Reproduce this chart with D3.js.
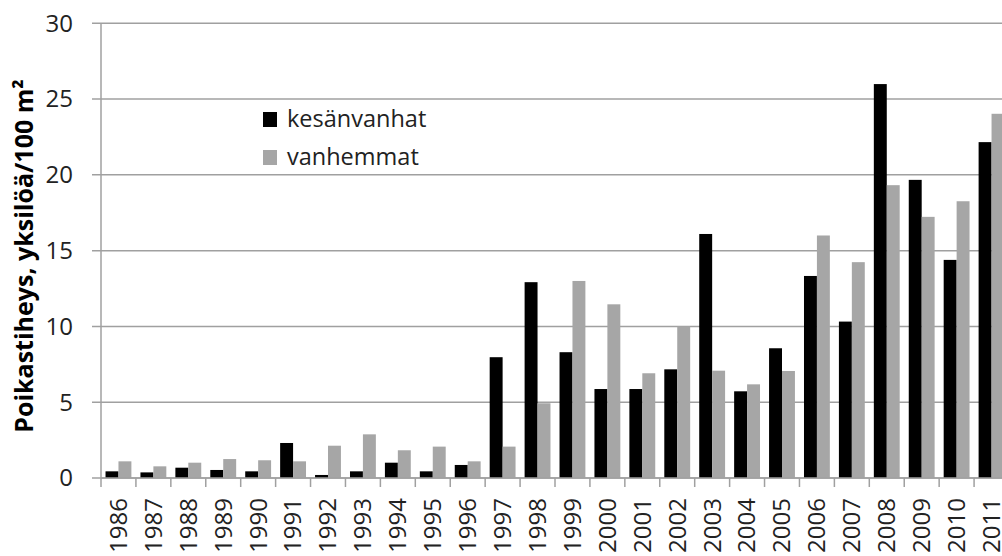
<!DOCTYPE html>
<html>
<head>
<meta charset="utf-8">
<script src="https://cdn.jsdelivr.net/npm/d3@7"></script>
<style>
  body { margin: 0; background: #fff; }
  svg { display: block; font-family: "Open Sans", sans-serif; }
</style>
</head>
<body>
<svg id="chart" width="1002" height="556"></svg>
<script>
// years on the x axis
const years = ["1986","1987","1988","1989","1990","1991","1992","1993","1994","1995","1996",
    "1997","1998","1999","2000","2001","2002","2003","2004","2005","2006","2007","2008","2009","2010","2011"];

// kesänvanhat (black)
const kesanvanhat = [0.44, 0.37, 0.68, 0.53, 0.44, 2.31, 0.2, 0.44, 1.01, 0.44, 0.86,
    7.97, 12.92, 8.3, 5.87, 5.87, 7.17, 16.1, 5.72, 8.56, 13.33, 10.32, 25.99, 19.67, 14.39, 22.16];

// vanhemmat (gray)
const vanhemmat = [1.1, 0.77, 1.01, 1.25, 1.17, 1.1, 2.13, 2.88, 1.83, 2.07, 1.1,
    2.07, 4.93, 13.0, 11.46, 6.91, 10.0, 7.08, 6.18, 7.06, 16.0, 14.24, 19.32, 17.23, 18.26, 24.03];

const seriesNames = ["kesänvanhat", "vanhemmat"];
const seriesColors = ["#000000", "#a6a6a6"];
const yTicks = [0, 5, 10, 15, 20, 25, 30];

const svg = d3.select("#chart");

const plotLeft = 101, plotRight = 1009, plotTop = 23.3, plotBottom = 478;

const x = d3.scaleBand()
    .domain(years)
    .range([plotLeft, plotRight])
    .paddingInner(0)
    .paddingOuter(0);

const x1 = d3.scaleBand()
    .domain(seriesNames)
    .range([0, x.bandwidth()])
    .paddingInner(0)
    .paddingOuter(0.35);

const y = d3.scaleLinear()
    .domain([0, 30])
    .range([plotBottom, plotTop]);

const gridColor = "#a0a0a0";

// gridlines with ticks sticking out on the left
svg.append("g")
    .selectAll("line")
    .data(yTicks)
    .enter()
    .append("line")
    .attr("x1", plotLeft - 9)
    .attr("x2", plotRight)
    .attr("y1", d => y(d))
    .attr("y2", d => y(d))
    .attr("stroke", gridColor)
    .attr("stroke-width", 1.5);

// y axis line
svg.append("line")
    .attr("x1", plotLeft).attr("x2", plotLeft)
    .attr("y1", plotTop).attr("y2", plotBottom)
    .attr("stroke", gridColor)
    .attr("stroke-width", 1.5);

// y tick labels
svg.append("g")
    .selectAll("text")
    .data(yTicks)
    .enter()
    .append("text")
    .attr("x", 73)
    .attr("y", d => y(d))
    .attr("dy", "0.35em")
    .attr("text-anchor", "end")
    .style("font-size", "24px")
    .style("fill", "#222")
    .text(d => d);

// bars
const rows = years.map((yr, i) => ({ year: yr, values: [kesanvanhat[i], vanhemmat[i]] }));

svg.append("g")
    .selectAll("g")
    .data(rows)
    .enter()
    .append("g")
    .attr("transform", d => `translate(${x(d.year)},0)`)
    .selectAll("rect")
    .data(d => d.values.map((v, j) => ({ key: seriesNames[j], value: v, color: seriesColors[j] })))
    .enter()
    .append("rect")
    .attr("x", d => x1(d.key))
    .attr("width", x1.bandwidth())
    .attr("y", d => y(d.value))
    .attr("height", d => y(0) - y(d.value))
    .attr("fill", d => d.color);

// x axis line and tick marks at category boundaries
svg.append("line")
    .attr("x1", plotLeft).attr("x2", plotRight)
    .attr("y1", plotBottom).attr("y2", plotBottom)
    .attr("stroke", gridColor)
    .attr("stroke-width", 1.5);

svg.append("g")
    .selectAll("line")
    .data(years)
    .enter()
    .append("line")
    .attr("x1", d => x(d))
    .attr("x2", d => x(d))
    .attr("y1", plotBottom)
    .attr("y2", plotBottom + 9)
    .attr("stroke", gridColor)
    .attr("stroke-width", 1.5);

// x tick labels, rotated
svg.append("g")
    .selectAll("text")
    .data(years)
    .enter()
    .append("text")
    .attr("transform", d => `translate(${x(d) + x.bandwidth() / 2},498) rotate(-90)`)
    .attr("dy", "0.35em")
    .attr("text-anchor", "end")
    .style("font-size", "24px")
    .style("fill", "#222")
    .text(d => d);

// y axis title
svg.append("text")
    .attr("transform", "translate(24,256) rotate(-90)")
    .attr("dy", "0.35em")
    .attr("text-anchor", "middle")
    .style("font-size", "25px")
    .style("font-weight", "bold")
    .style("fill", "#000")
    .text("Poikastiheys, yksilöä/100 m²");

// legend
const legend = svg.append("g")
    .selectAll("g")
    .data(seriesNames)
    .enter()
    .append("g")
    .attr("transform", (d, i) => `translate(263,${112 + i * 38})`);

legend.append("rect")
    .attr("width", 14)
    .attr("height", 15)
    .attr("fill", (d, i) => seriesColors[i]);

legend.append("text")
    .attr("x", 24)
    .attr("y", 14.5)
    .style("font-size", "23.5px")
    .style("fill", "#222")
    .text(d => d);
</script>
</body>
</html>
